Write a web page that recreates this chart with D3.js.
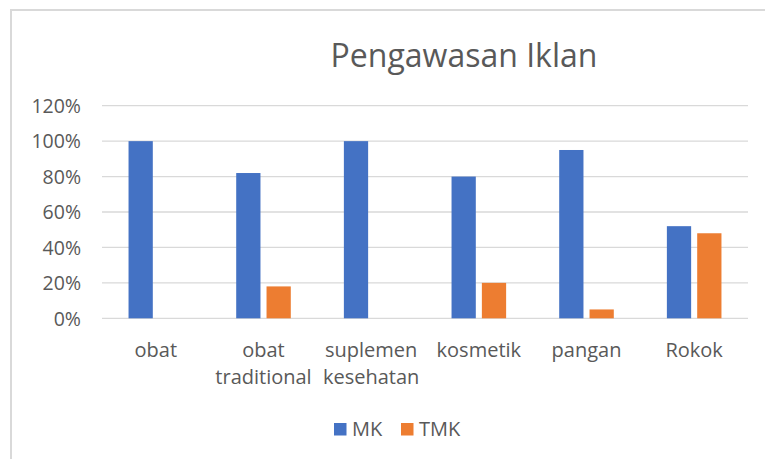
<!DOCTYPE html>
<html>
<head>
<meta charset="utf-8">
<script src="https://cdn.jsdelivr.net/npm/d3@7"></script>
<style>
  body { margin: 0; background: #fff; }
  text { font-family: "Open Sans", sans-serif; fill: #595959; }
</style>
</head>
<body>
<script>
var categories = [['obat'], ['obat', 'traditional'], ['suplemen', 'kesehatan'], ['kosmetik'], ['pangan'], ['Rokok']];
var seriesNames = ['MK', 'TMK'];
var mkValues = [1.00, 0.82, 1.00, 0.80, 0.95, 0.52];
var tmkValues = [0, 0.18, 0, 0.20, 0.05, 0.48];
var tickValues = [0, 0.2, 0.4, 0.6, 0.8, 1.0, 1.2];
var colors = ['#4472C4', '#ED7D31'];

var W = 765, H = 459;
var svg = d3.select('body').append('svg').attr('width', W).attr('height', H);

// chart border (only left and top visible in the crop)
svg.append('path')
  .attr('d', 'M11,' + H + ' L11,10 L' + W + ',10')
  .attr('fill', 'none').attr('stroke', '#d9d9d9').attr('stroke-width', 2);

svg.append('text')
  .attr('x', 464).attr('y', 67)
  .attr('text-anchor', 'middle')
  .style('font-size', '32px')
  .text('Pengawasan Iklan');

var keys = categories.map((d, i) => 'c' + i);
var x0 = d3.scaleBand().domain(keys).range([102, 748]);
var x1 = d3.scaleBand().domain(seriesNames).range([0, x0.bandwidth()])
  .paddingInner(0.2).paddingOuter(0.875);
var y = d3.scaleLinear().domain([0, 1.2]).range([318.3, 105.7]);

// gridlines
svg.append('g').selectAll('line')
  .data(tickValues).enter().append('line')
  .attr('x1', 102).attr('x2', 748)
  .attr('y1', d => y(d)).attr('y2', d => y(d))
  .attr('stroke', '#d9d9d9').attr('stroke-width', 1.3);

// y axis labels
var yAxis = d3.axisLeft(y).tickValues(tickValues).tickFormat(d3.format('.0%')).tickSize(0).tickPadding(0);
var yg = svg.append('g').attr('transform', 'translate(81,0)').call(yAxis);
yg.select('.domain').remove();
yg.selectAll('text').style('font-size', '19.5px').style('font-family', '"Open Sans", sans-serif')
  .attr('fill', '#595959').attr('dy', '0.35em');

// bars
var data = keys.map((k, i) => ({ key: k, values: [mkValues[i], tmkValues[i]] }));
var groups = svg.append('g').selectAll('g')
  .data(data).enter().append('g')
  .attr('transform', d => 'translate(' + x0(d.key) + ',0)');
groups.selectAll('rect')
  .data(d => d.values.map((v, j) => ({ s: seriesNames[j], v: v, c: colors[j] })))
  .enter().append('rect')
  .attr('x', d => x1(d.s))
  .attr('width', x1.bandwidth())
  .attr('y', d => y(d.v))
  .attr('height', d => y(0) - y(d.v))
  .attr('fill', d => d.c);

// category labels
var labels = svg.append('g').selectAll('text')
  .data(categories).enter().append('text')
  .attr('text-anchor', 'middle')
  .attr('x', (d, i) => x0(keys[i]) + x0.bandwidth() / 2)
  .attr('y', 357)
  .style('font-size', '20px');
labels.selectAll('tspan')
  .data(d => d).enter().append('tspan')
  .attr('x', function () { return d3.select(this.parentNode).attr('x'); })
  .attr('dy', (d, i) => i === 0 ? 0 : 27)
  .text(d => d);

// legend
var legendX = [334, 401];
var legend = svg.append('g').selectAll('g')
  .data(seriesNames).enter().append('g')
  .attr('transform', (d, i) => 'translate(' + legendX[i] + ',423)');
legend.append('rect').attr('width', 12.5).attr('height', 12.5).attr('fill', (d, i) => colors[i]);
legend.append('text').attr('x', 18).attr('y', 13).style('font-size', '20px').text(d => d);
</script>
</body>
</html>
